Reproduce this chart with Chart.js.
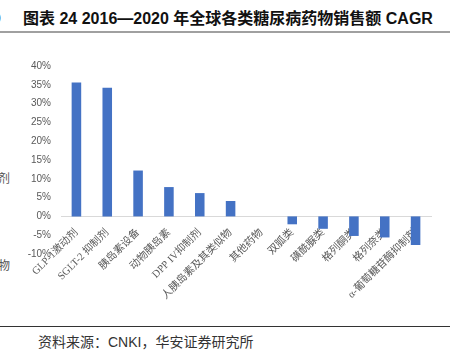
<!DOCTYPE html>
<html>
<head>
<meta charset="utf-8">
<script src="https://cdn.jsdelivr.net/npm/chart.js@4"></script>
<style>
  body { margin: 0; width: 460px; height: 353px; background: #fff; position: relative; overflow: hidden; font-family: "Liberation Sans", "Noto Sans CJK SC", sans-serif; }
  .abs { position: absolute; white-space: nowrap; }
  #title { left: 23px; top: 11px; font-size: 16px; line-height: 16px; font-weight: bold; color: #111; }
  #rule1 { left: 0; top: 31px; width: 450px; height: 2px; background: #a0a0a0; }
  #rule2 { left: 0; top: 326px; width: 450px; height: 1px; background: #333; }
  #src { left: 38px; top: 335px; font-size: 14px; line-height: 15px; color: #333; }
  .side { font-size: 12px; color: #555; }
  #wrap { left: 0; top: 40px; width: 460px; height: 280px; }
</style>
</head>
<body>
<div class="abs" id="title">图表 24 2016—2020 年全球各类糖尿病药物销售额 CAGR</div>
<div class="abs side" style="left:-7px;top:10px;font-weight:bold;font-size:14px;color:#111">0</div>
<div class="abs" id="rule1"></div>
<div class="abs side" style="left:-14px;top:169px">制剂</div>
<div class="abs side" style="left:-14px;top:256px">似物</div>
<div class="abs" id="wrap"><canvas id="myChart" width="460" height="280"></canvas></div>
<div class="abs" id="rule2"></div>
<div class="abs" id="src">资料来源：CNKI，华安证券研究所</div>
<script>
// categories and CAGR values (%)
var categories = ["GLP-1激动剂", "SGLT-2 抑制剂", "胰岛素设备", "动物胰岛素", "DPP IV抑制剂", "人胰岛素及其类似物",
  "其他药物", "双胍类", "磺酰脲类", "格列酮类", "格列奈类", "α-葡萄糖苷酶抑制剂"];
var cagr = [35.6, 34.2, 12.2, 7.8, 6.2, 4.1, 0, -2.1, -3.3, -5.2, -5.6, -7.6];
var yTicks = [-10, -5, 0, 5, 10, 15, 20, 25, 30, 35, 40];

var ctx = document.getElementById('myChart').getContext('2d');
var chart = new Chart(ctx, {
  type: 'bar',
  data: {
    labels: categories,
    datasets: [{
      data: cagr,
      backgroundColor: '#4472C4',
      barPercentage: 0.31,
      categoryPercentage: 1
    }]
  },
  options: {
    responsive: false,
    animation: false,
    layout: { padding: { top: 26, right: 29, bottom: 66, left: 0 } },
    plugins: { legend: { display: false }, tooltip: { enabled: false } },
    scales: {
      x: {
        position: { y: 0 },
        grid: { display: false },
        border: { display: true, color: '#d9d9d9', width: 1 },
        ticks: {
          autoSkip: false,
          minRotation: 45,
          maxRotation: 45,
          padding: 2,
          color: '#595959',
          font: { size: 10.5, family: "'Liberation Serif', 'Noto Sans CJK SC'" }
        },
        afterFit: function (s) { s.height = 0; }
      },
      y: {
        min: yTicks[0],
        max: yTicks[yTicks.length - 1],
        afterBuildTicks: function (s) { s.ticks = yTicks.map(function (v) { return { value: v }; }); },
        grid: { display: false, drawTicks: false },
        border: { display: false },
        ticks: {
          padding: 10,
          color: '#595959',
          font: { size: 10, family: "'Liberation Sans'" },
          callback: function (v) { return v + '%'; }
        },
        afterFit: function (s) { s.width = 61; }
      }
    }
  }
});
</script>
</body>
</html>
